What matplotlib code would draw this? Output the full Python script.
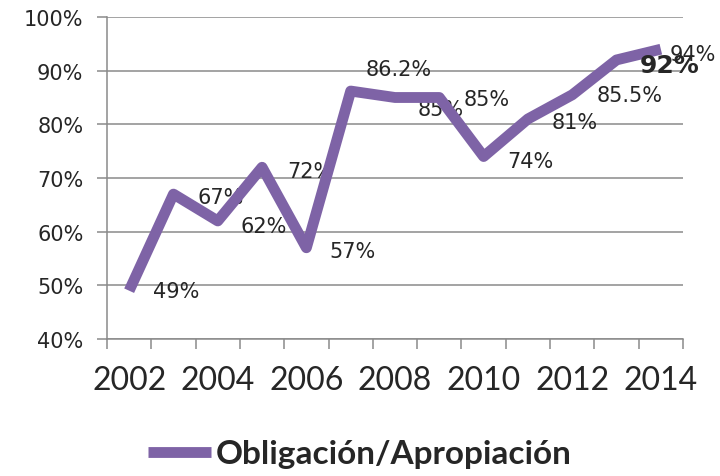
import matplotlib
matplotlib.use("Agg")
import matplotlib.pyplot as plt
from matplotlib.ticker import FixedLocator, NullFormatter, FuncFormatter

# data
YEARS = list(range(2002, 2015))
RATIO = [49, 67, 62, 72, 57, 86.2, 85, 85, 74, 81, 85.5, 92, 94]
LABELS = ["49%", "67%", "62%", "72%", "57%", "86.2%", "85%", "85%",
          "74%", "81%", "85.5%", "92%", "94%"]
YTICKS = [40, 50, 60, 70, 80, 90, 100]
SERIES_NAME = "Obligación/Apropiación"

# label placement (pixels right/down of the point)
LABEL_OFFSETS = [(24, 0), (24, 3), (23, 5), (25, 4), (23, 3), (15, -22),
                 (23, 12), (24, 1), (24, 4), (24, 3), (24, 0), (23, 5), (9, 5)]

PURPLE = "#7E63A6"
GRID = "#8a8a8a"
TEXT = "#262626"

fig = plt.figure(figsize=(7.2, 4.77), dpi=100)
ax = fig.add_axes([107 / 720, 1 - 340 / 477, 576 / 720, 322 / 477])

x = list(range(len(YEARS)))
line, = ax.plot(x, RATIO, color=PURPLE, linewidth=7.8, solid_joinstyle="round",
                solid_capstyle="butt", label=SERIES_NAME, zorder=3)

px = 0.72  # pixels -> points
for i, (val, lab) in enumerate(zip(RATIO, LABELS)):
    dx, dy = LABEL_OFFSETS[i]
    bold = lab == "92%"
    ax.annotate(lab, (i, val), xytext=(dx * px, -dy * px), textcoords="offset points",
                ha="left", va="center", color=TEXT,
                fontsize=18 if bold else 15, fontweight="bold" if bold else "normal",
                zorder=4 if bold else 2)

ax.set_xlim(-0.5, len(YEARS) - 0.5)
ax.set_ylim(40, 100)
ax.set_yticks(YTICKS)
ax.yaxis.set_major_formatter(FuncFormatter(lambda v, p: f"{v:.0f}%"))
ax.grid(axis="y", color=GRID, linewidth=1.1)
ax.set_axisbelow(True)

# category boundaries carry tick marks, labels every second year
ax.xaxis.set_major_locator(FixedLocator([i - 0.5 for i in range(len(YEARS) + 1)]))
ax.xaxis.set_major_formatter(NullFormatter())
ax.xaxis.set_minor_locator(FixedLocator(x[::2]))
ax.set_xticklabels([str(y) for y in YEARS[::2]], minor=True)
ax.tick_params(axis="x", which="major", length=7, width=1.1, color=GRID)
ax.tick_params(axis="x", which="minor", length=0, pad=19, labelsize=23, labelcolor=TEXT)
for t in ax.get_xticklabels(minor=True):
    t.set_family(["Lato", "DejaVu Sans"])
ax.tick_params(axis="y", length=7, width=1.1, color=GRID, labelsize=15,
               labelcolor=TEXT, pad=10)

for s in ["top", "right"]:
    ax.spines[s].set_visible(False)
for s in ["left", "bottom"]:
    ax.spines[s].set_color(GRID)
    ax.spines[s].set_linewidth(1.1)

leg = fig.legend(handles=[line], loc="center", bbox_to_anchor=(0.5, 1 - 455 / 477),
                 frameon=False, handlelength=1.9, handletextpad=0.15,
                 prop={"family": ["Lato", "DejaVu Sans"], "weight": "bold", "size": 24})
for t in leg.get_texts():
    t.set_color(TEXT)

fig.savefig("out.png", dpi=100)
